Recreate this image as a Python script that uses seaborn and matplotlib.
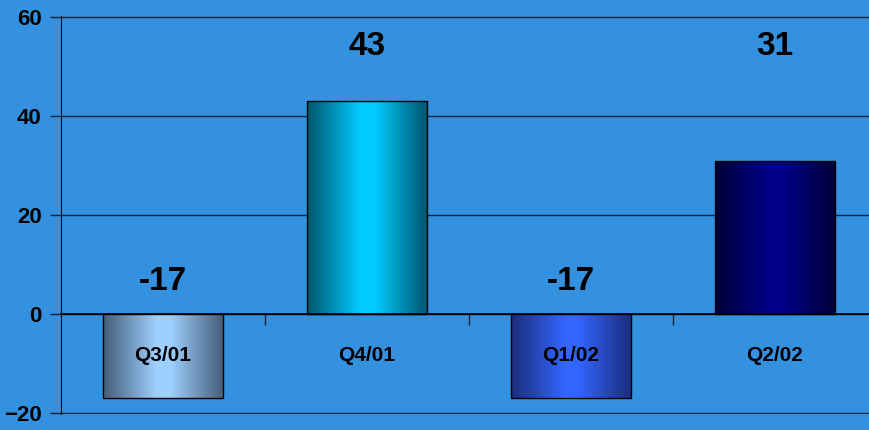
import numpy as np
import seaborn as sns
import matplotlib.pyplot as plt
from matplotlib.colors import LinearSegmentedColormap
from matplotlib.ticker import FixedLocator

quarters = ["Q3/01", "Q4/01", "Q1/02", "Q2/02"]
values = [-17, 43, -17, 31]
edge_colors = ["#455d78", "#00556b", "#1a2c7a", "#000038"]
center_colors = ["#9dcfff", "#00ccff", "#3366ff", "#000088"]

bg = "#3391df"
sns.set_style("white", rc={"axes.facecolor": bg, "figure.facecolor": bg,
                           "text.color": "black", "xtick.color": "black",
                           "ytick.color": "black"})
plt.rcParams["font.family"] = ["Liberation Sans", "DejaVu Sans"]
plt.rcParams["font.weight"] = "bold"

fig = plt.figure(figsize=(8.69, 4.30), dpi=100)
ax = fig.add_axes([61 / 869, 16 / 430, 816 / 869, 398 / 430])

sns.barplot(x=quarters, y=values, color=edge_colors[0], width=0.59,
            edgecolor="black", linewidth=1, ax=ax, zorder=3)

# gradient fill on each bar (dark edges, light middle)
grad = np.linspace(0, 1, 256).reshape(1, -1)
for patch, c0, c1 in zip(ax.patches, edge_colors, center_colors):
    x0, y0 = patch.get_x(), patch.get_y()
    w, h = patch.get_width(), patch.get_height()
    cmap = LinearSegmentedColormap.from_list(
        "g", [(0, c0), (0.44, c1), (0.56, c1), (1, c0)])
    im = ax.imshow(grad, cmap=cmap, aspect="auto", zorder=2.5,
                   extent=[x0, x0 + w, min(y0, y0 + h), max(y0, y0 + h)])
    im.set_clip_path(patch)
    patch.set_facecolor("none")

ax.set_xlim(-0.5, 3.5)
ax.set_ylim(-20.2, 60.2)
ax.set_yticks([-20, 0, 20, 40, 60])
ax.yaxis.grid(True, color="#14233a", linewidth=1)
ax.set_axisbelow(True)
ax.xaxis.set_zorder(5)

for s in ["top", "right"]:
    ax.spines[s].set_visible(False)
ax.spines["left"].set_color("black")
ax.spines["bottom"].set_color("black")
ax.spines["bottom"].set_position(("data", 0))
ax.spines["bottom"].set_linewidth(1.2)

ax.tick_params(axis="y", direction="out", length=8, width=1, color="#14233a",
               labelsize=16, labelcolor="black", pad=6, left=True)
ax.tick_params(axis="x", which="major", length=0, pad=23, labelsize=15,
               labelcolor="black")
ax.xaxis.set_minor_locator(FixedLocator([0.5, 1.5, 2.5]))
ax.tick_params(axis="x", which="minor", direction="out", length=8, width=1,
               color="#14233a", bottom=True)
for lbl in ax.get_xticklabels() + ax.get_yticklabels():
    lbl.set_fontweight("bold")
ax.set_xlabel("")
ax.set_ylabel("")

for i, v in enumerate(values):
    ax.text(i, 54 if v > 0 else 6.6, f"{v}", ha="center", va="center",
            fontsize=24, fontweight="bold", color="black", zorder=6)

fig.savefig("out.png", dpi=100, facecolor=bg)
